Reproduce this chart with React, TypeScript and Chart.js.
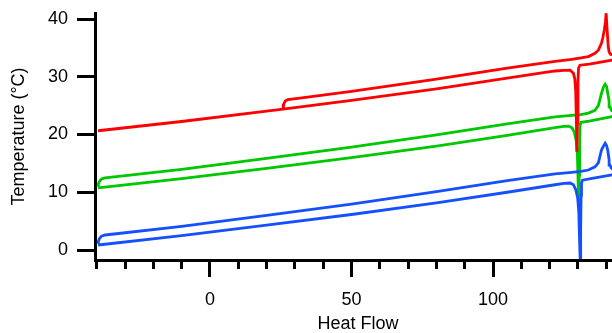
import { useEffect, useRef } from 'react';
import { Chart, registerables } from 'chart.js';

Chart.register(...registerables);

// Axis ranges and tick labels
const X_MIN = -40.6;
const X_MAX = 145.2;
const Y_MIN = -1.73;
const Y_MAX = 41.04;
const xMajorTicks = [0, 50, 100];
const X_TITLE = 'Heat Flow';
const Y_TITLE = 'Temperature (°C)';

// Blue trace (path order: lower branch left->right, then upper branch right->left)
const blueX = [-39.5, -10, 20, 50, 80, 105, 121.9, 125, 127.2, 128.4, 129.2, 129.9, 130.3, 130.55, 130.75, 130.95, 131.1, 131.25, 131.6, 134, 138, 142, 146,
  146, 143, 141.8, 141.3, 141.0, 140.5, 140.1, 139.6, 139.0, 138.3, 137.2, 136.0, 133.7, 131, 127.8, 121.9, 105, 80, 50, 20, -10, -37, -38.3, -39.0, -39.4, -39.5];
const blueY = [0.87, 2.5, 4.3, 6.15, 8.15, 10.0, 11.3, 11.55, 11.6, 11.3, 10.5, 9.0, 6.5, 2.0, -1.3, 3.5, 9.5, 11.6, 12.1, 12.3, 12.65, 13.0, 13.35,
  13.6, 13.7, 14.2, 14.7, 15.6, 17.3, 18.1, 18.5, 18.0, 17.3, 15.1, 14.4, 13.85, 13.6, 13.45, 13.2, 12.0, 10.1, 7.95, 6.0, 4.1, 2.6, 2.4, 2.0, 1.5, 1.1];

// Green trace
const greenX = [-39.5, -10, 20, 50, 80, 105, 121.9, 125, 126.7, 127.9, 128.7, 129.4, 129.8, 130.05, 130.25, 130.45, 130.6, 130.75, 131.1, 134, 138, 142, 146,
  146, 143, 141.8, 141.3, 141.0, 140.5, 140.1, 139.6, 139.0, 138.3, 137.2, 136.0, 133.7, 131, 127.8, 121.9, 105, 80, 50, 20, -10, -37, -38.3, -39.0, -39.4, -39.5];
const greenY = [10.75, 12.35, 14.15, 16.0, 18.0, 19.85, 21.2, 21.4, 21.45, 21.15, 20.4, 18.9, 16.5, 12.0, 7.8, 13.0, 19.5, 21.6, 22.1, 22.3, 22.7, 23.1, 23.45,
  23.7, 23.8, 24.2, 24.8, 25.8, 27.2, 28.3, 28.7, 28.2, 27.1, 25.0, 24.2, 23.7, 23.45, 23.3, 23.05, 21.85, 19.95, 17.8, 15.85, 13.95, 12.5, 12.3, 11.9, 11.4, 11.0];

// Red trace
const redX = [-39.5, -10, 20, 25.8, 50, 80, 105, 121.9, 125, 127.2, 128.4, 128.9, 129.2, 129.45, 129.6, 129.8, 130.0, 130.2, 130.7, 134, 138, 142, 146,
  146, 143, 141.5, 141.0, 140.7, 140.3, 139.95, 139.7, 139.3, 138.8, 138.3, 137.2, 136.0, 133.7, 131, 127.8, 121.9, 105, 80, 50, 31.8, 27.5, 26.6, 26.1, 25.9, 25.8];
const redY = [20.65, 22.25, 24.05, 24.4, 25.9, 27.9, 29.75, 31.0, 31.1, 31.15, 30.6, 29.6, 27.5, 22.0, 17.0, 22.0, 29.0, 31.5, 32.0, 32.2, 32.55, 32.9, 33.2,
  33.5, 33.7, 33.9, 34.3, 35.2, 38.1, 41.0, 39.5, 38.1, 36.8, 35.8, 34.6, 34.05, 33.5, 33.25, 33.0, 32.65, 31.5, 29.6, 27.45, 26.3, 26.05, 25.8, 25.3, 24.7, 24.45];

const BLUE = '#1450ff';
const GREEN = '#00c800';
const RED = '#ff0000';
const FONT = "'Liberation Sans', Arial, Helvetica, sans-serif";

const toPoints = (xs: number[], ys: number[]) => xs.map((x, i) => ({ x, y: ys[i] }));

const majorTickPlugin = {
  id: 'majorTicks',
  afterDraw(chart: any) {
    const xs = chart.scales.x;
    const ctx = chart.ctx;
    const b = chart.chartArea.bottom;
    ctx.save();
    ctx.strokeStyle = '#000';
    ctx.lineWidth = 3;
    for (const v of xMajorTicks) {
      const p = xs.getPixelForValue(v);
      const px = Math.round(p - 1.5) + 1.5;
      ctx.beginPath();
      ctx.moveTo(px, b);
      ctx.lineTo(px, b + 17);
      ctx.stroke();
    }
    ctx.restore();
  },
};

export default function App() {
  const ref = useRef<HTMLCanvasElement | null>(null);

  useEffect(() => {
    if (!ref.current) return;
    const mk = (label: string, xs: number[], ys: number[], color: string) => ({
      label,
      data: toPoints(xs, ys),
      borderColor: color,
      backgroundColor: color,
      borderWidth: 2.8,
      pointRadius: 0,
      tension: 0,
      fill: false,
    });
    const chart = new Chart(ref.current, {
      type: 'line',
      data: {
        datasets: [
          mk('blue', blueX, blueY, BLUE),
          mk('red', redX, redY, RED),
          mk('green', greenX, greenY, GREEN),
        ],
      },
      options: {
        animation: false,
        responsive: true,
        maintainAspectRatio: false,
        layout: { padding: { top: 13, left: 0, right: 0, bottom: 0 } },
        plugins: { legend: { display: false }, tooltip: { enabled: false } },
        scales: {
          x: {
            type: 'linear',
            min: X_MIN,
            max: X_MAX,
            afterFit: (s: any) => { s.height = 73; s.paddingLeft = 0; s.paddingRight = 0; },
            border: { display: true, color: '#000', width: 3 },
            grid: { drawOnChartArea: false, drawTicks: true, tickLength: 9, tickWidth: 3, tickColor: '#000' },
            ticks: {
              stepSize: 10,
              includeBounds: false,
              autoSkip: false,
              maxRotation: 0,
              padding: 20,
              color: '#000',
              font: { family: FONT, size: 18 },
              callback: (v: any) => (xMajorTicks.includes(Number(v)) ? String(v) : ''),
            },
            title: { display: true, text: X_TITLE, color: '#000', font: { family: FONT, size: 18 }, padding: { top: 0, bottom: -2 } },
          },
          y: {
            type: 'linear',
            min: Y_MIN,
            max: Y_MAX,
            afterFit: (s: any) => { s.width = 95; s.paddingTop = 0; s.paddingBottom = 0; },
            border: { display: true, color: '#000', width: 3 },
            grid: { drawOnChartArea: false, drawTicks: true, tickLength: 18, tickWidth: 3, tickColor: '#000' },
            ticks: {
              stepSize: 10,
              includeBounds: false,
              padding: 9,
              color: '#000',
              font: { family: FONT, size: 18 },
            },
            title: { display: true, text: Y_TITLE, color: '#000', font: { family: FONT, size: 18 }, padding: { top: 8, bottom: 0 } },
          },
        },
      },
      plugins: [majorTickPlugin],
    });
    return () => chart.destroy();
  }, []);

  return (
    <div style={{ position: 'absolute', left: 0, top: 0, width: 612, height: 333, overflow: 'hidden' }}>
      <div style={{ position: 'relative', width: 621, height: 333 }}>
        <canvas ref={ref} style={{ display: 'block' }} />
      </div>
    </div>
  );
}
